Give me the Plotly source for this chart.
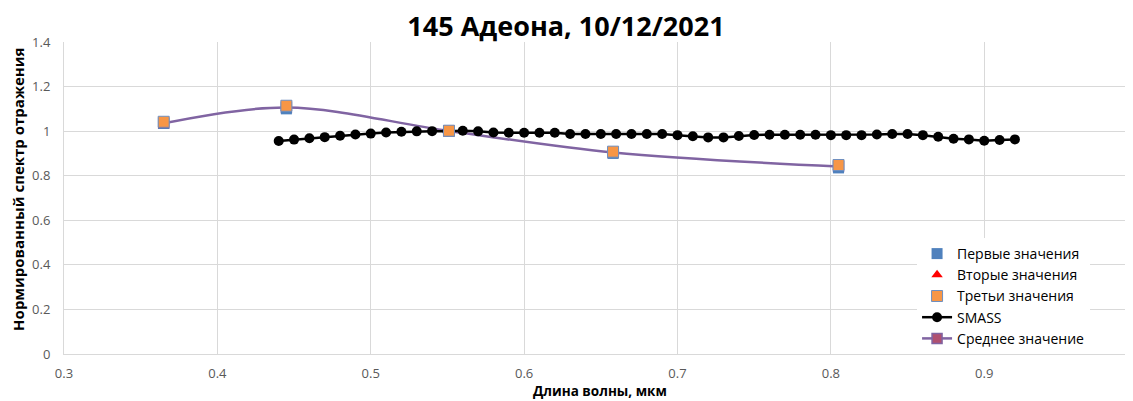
import plotly.graph_objects as go

# Measured points (wavelength, µm)
meas_x = [0.365, 0.445, 0.551, 0.658, 0.805]
first_vals = [1.035, 1.100, 1.000, 0.900, 0.835]
second_vals = [1.027, 1.105, 1.000, 0.905, 0.840]
third_vals = [1.042, 1.114, 1.002, 0.908, 0.848]
mean_vals = [1.035, 1.106, 1.001, 0.904, 0.841]

smass_x = [round(0.44 + 0.01 * i, 2) for i in range(49)]
smass_y = [0.956, 0.962, 0.968, 0.973, 0.979, 0.985, 0.989, 0.994, 0.997, 0.999,
           1.000, 1.000, 1.002, 0.999, 0.994, 0.993, 0.993, 0.993, 0.993, 0.987,
           0.987, 0.987, 0.987, 0.987, 0.987, 0.987, 0.982, 0.977, 0.972, 0.972,
           0.978, 0.983, 0.984, 0.984, 0.984, 0.984, 0.982, 0.982, 0.982, 0.985,
           0.987, 0.987, 0.982, 0.975, 0.966, 0.963, 0.957, 0.960, 0.963]

x_ticks = [0.3, 0.4, 0.5, 0.6, 0.7, 0.8, 0.9]
y_ticks = [0, 0.2, 0.4, 0.6, 0.8, 1.0, 1.2, 1.4]
y_tick_text = ["0", "0.2", "0.4", "0.6", "0.8", "1", "1.2", "1.4"]

FONT = "Open Sans"
# the page body has an 8px margin; size the figure so it fills the window exactly
W, H = 1125, 393

fig = go.Figure()
fig.add_trace(go.Scatter(
    x=meas_x, y=mean_vals, name="Среднее значение", mode="lines+markers",
    line=dict(color="#8064A2", width=2.5, shape="spline", smoothing=1.0),
    marker=dict(symbol="square", size=10, color="#B05070", line=dict(color="#8064A2", width=1.5)),
    legendrank=5))
fig.add_trace(go.Scatter(
    x=smass_x, y=smass_y, name="SMASS", mode="lines+markers",
    line=dict(color="black", width=2.5),
    marker=dict(symbol="circle", size=10, color="black"),
    legendrank=4))
fig.add_trace(go.Scatter(
    x=meas_x, y=first_vals, name="Первые значения", mode="markers",
    marker=dict(symbol="square", size=11, color="#4F81BD"), legendrank=1))
fig.add_trace(go.Scatter(
    x=meas_x, y=second_vals, name="Вторые значения", mode="markers",
    marker=dict(symbol="triangle-up", size=10, color="#FF0000"), legendrank=2))
fig.add_trace(go.Scatter(
    x=meas_x, y=third_vals, name="Третьи значения", mode="markers",
    marker=dict(symbol="square", size=11, color="#F79646", line=dict(color="#6F8FBF", width=1)),
    legendrank=3))

fig.update_layout(
    width=W, height=H,
    margin=dict(l=56, r=0, t=34, b=47, autoexpand=False),
    paper_bgcolor="white", plot_bgcolor="white",
    font=dict(family=FONT, color="#595959", size=13),
    title=dict(text="<b>145 Адеона, 10/12/2021</b>", x=(566 - 8) / W, xref="container", xanchor="center",
               y=1 - 19 / H, yref="container", yanchor="middle",
               font=dict(family=FONT, size=27, color="black")),
    showlegend=True,
    legend=dict(x=0.798, y=0.0, xanchor="left", yanchor="bottom", bgcolor="white",
                font=dict(family=FONT, size=14, color="black"),
                tracegroupgap=0, itemwidth=30),
    xaxis=dict(range=[0.3, 0.997], tickvals=x_ticks, ticktext=[str(v) for v in x_ticks],
               showgrid=True, gridcolor="#D9D9D9", gridwidth=1, automargin=False,
               showline=True, linecolor="#D9D9D9", zeroline=False, ticks="",
               ticklabelstandoff=7,
               tickfont=dict(size=13, color="#595959")),
    yaxis=dict(range=[0, 1.4], tickvals=y_ticks, ticktext=y_tick_text,
               showgrid=True, gridcolor="#D9D9D9", gridwidth=1, automargin=False,
               showline=True, linecolor="#D9D9D9", zeroline=False, ticks="",
               ticklabelstandoff=10,
               tickfont=dict(size=13, color="#595959")),
    annotations=[
        dict(text="<b>Длина волны, мкм</b>", xref="paper", yref="paper", x=0.501, y=0,
             xanchor="center", yanchor="middle", yshift=-37, showarrow=False,
             font=dict(family=FONT, size=13.5, color="black")),
        dict(text="<b>Нормированный спектр отражения</b>", xref="paper", yref="paper",
             x=0, y=0.526, xanchor="center", yanchor="middle", xshift=-46, textangle=-90,
             showarrow=False, font=dict(family=FONT, size=15, color="black")),
    ],
)

fig.write_html("out.html")
